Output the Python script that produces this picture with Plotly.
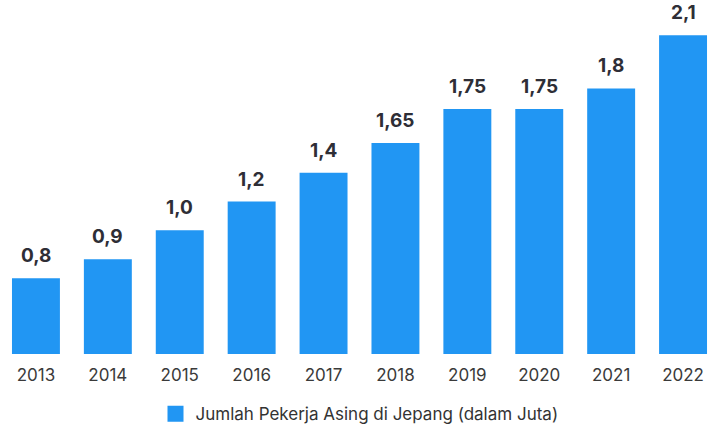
import plotly.graph_objects as go

years = ["2013", "2014", "2015", "2016", "2017", "2018", "2019", "2020", "2021", "2022"]
bar_values = [0.50, 0.625, 0.815, 1.005, 1.195, 1.39, 1.615, 1.615, 1.75, 2.10]
value_labels = ["0,8", "0,9", "1,0", "1,2", "1,4", "1,65", "1,75", "1,75", "1,8", "2,1"]
series_name = "Jumlah Pekerja Asing di Jepang (dalam Juta)"

BLUE = "#2196F3"
FONT = "Inter"

fig = go.Figure()
fig.add_trace(go.Bar(
    x=years, y=bar_values, marker=dict(color=BLUE, line=dict(width=0)),
    showlegend=False, hoverinfo="skip",
))
fig.add_trace(go.Scatter(
    x=[years[0]], y=[None], mode="markers", name=series_name,
    marker=dict(symbol="square", size=17, color=BLUE),
))

for i, (v, lab) in enumerate(zip(bar_values, value_labels)):
    fig.add_annotation(
        x=i, y=v, xref="x", yref="y", text=f"<b>{lab}</b>", showarrow=False,
        yanchor="bottom", yshift=9,
        font=dict(family=FONT, size=19, color="#2e2e36"),
    )

fig.update_layout(
    width=719, height=428,
    margin=dict(l=0, r=0, t=0, b=74),
    paper_bgcolor="white", plot_bgcolor="white",
    bargap=1/3,
    font=dict(family=FONT, color="#333333"),
    xaxis=dict(type="category", categoryorder="array", categoryarray=years,
               range=[-0.5, len(years) - 0.5], autorange=False,
               showgrid=False, showline=False, zeroline=False, ticks="",
               tickfont=dict(family=FONT, size=17, color="#3a3a3a"),
               ticklabelstandoff=9),
    yaxis=dict(visible=False, range=[0, 2.333]),
    showlegend=True,
    legend=dict(orientation="h", x=0.5, xanchor="center",
                yref="container", y=0.032, yanchor="middle",
                font=dict(family=FONT, size=17, color="#333333")),
)

fig.write_html("out.html")
